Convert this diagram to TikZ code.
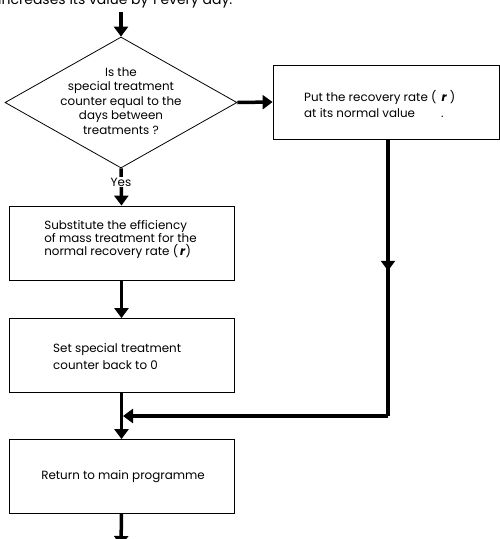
\documentclass[tikz,border=0pt]{standalone}
\usepackage{fontspec}
\setmainfont{Poppins}
\usetikzlibrary{arrows.meta,shapes.geometric,decorations.markings}
\newcommand{\rsym}{\textbf{\textit{r}}}
\begin{document}
\begin{tikzpicture}[x=1pt,y=-1pt,
  thin line/.style={line width=0.8pt},
  flow/.style={line width=3.5pt,-{Triangle[length=10pt,width=14pt]}},
  thick line/.style={line width=3.5pt},
  procbox/.style={draw,thin line,minimum width=225pt,minimum height=74pt,inner sep=0pt},
  txt/.style={font=\fontsize{11.9}{13}\selectfont,align=left,inner sep=0pt}
]
\useasboundingbox (0,0) rectangle (500,539);
% top text (partially cut off, as in the reference)
\node[anchor=base west,inner sep=0pt,font=\fontsize{14}{16}\selectfont] (toptxt) at (-2,4.5) {increases its value by 1 every day.};
\coordinate (topin) at (121,12);
% decision diamond
\node[diamond,draw,thin line,minimum width=232pt,minimum height=131pt,inner sep=0pt] (dec) at (121,102.5) {};
\node[txt,align=center,font=\fontsize{11.9}{14.5}\selectfont] (dectxt) at (121,101) {Is the\\special treatment\\counter equal to the\\days between\\treatments ?};
% boxes
\node[procbox] (sub) at (121.5,243) {};
\node[txt] (subtxt) at (120.5,239.5) {Substitute the efficiency\\of mass treatment for the\\normal recovery rate (\hspace{2pt}\rsym)};
\node[procbox] (set) at (121.5,355.5) {};
\node[txt,font=\fontsize{11.9}{16.5}\selectfont,anchor=west] (settxt) at (53,356.5) {Set special treatment\\counter back to 0};
\node[procbox] (ret) at (121.5,476.5) {};
\node[txt] (rettxt) at (123,477) {Return to main programme};
\node[draw,thin line,minimum width=226pt,minimum height=74pt,inner sep=0pt] (put) at (386,102) {};
\node[txt,anchor=west,font=\fontsize{11.9}{16}\selectfont] (puttxt) at (304,104) {Put the recovery rate (\hspace{5pt}\rsym\hspace{3pt})\\at its normal value\hspace{26pt}.};
% connectors
\draw[flow] (topin) -- (dec.north);
\draw[flow] (dec.south) -- (sub.north);
\node[fill=white,inner sep=0.8pt,font=\fontsize{11.9}{13}\selectfont] (yes) at (121,182) {Yes};
\draw[flow] (dec.east) -- (put.west);
\draw[flow] (sub.south) -- (set.north);
\coordinate (join) at (121,416);
\coordinate (corner) at (388,416);
\coordinate (putout) at (388,139);
\draw[thick line,decoration={markings,mark=at position 0.475 with {\arrow{Triangle[length=10pt,width=14pt]}}},postaction={decorate}] (put.south -| putout) -- (corner);
\draw[flow,line join=miter] (corner) -- ([xshift=2pt]join);
\draw[flow] (set.south) -- (ret.north);
\coordinate (out) at (121,546);
\draw[flow] (ret.south) -- (out);
\end{tikzpicture}
\end{document}
